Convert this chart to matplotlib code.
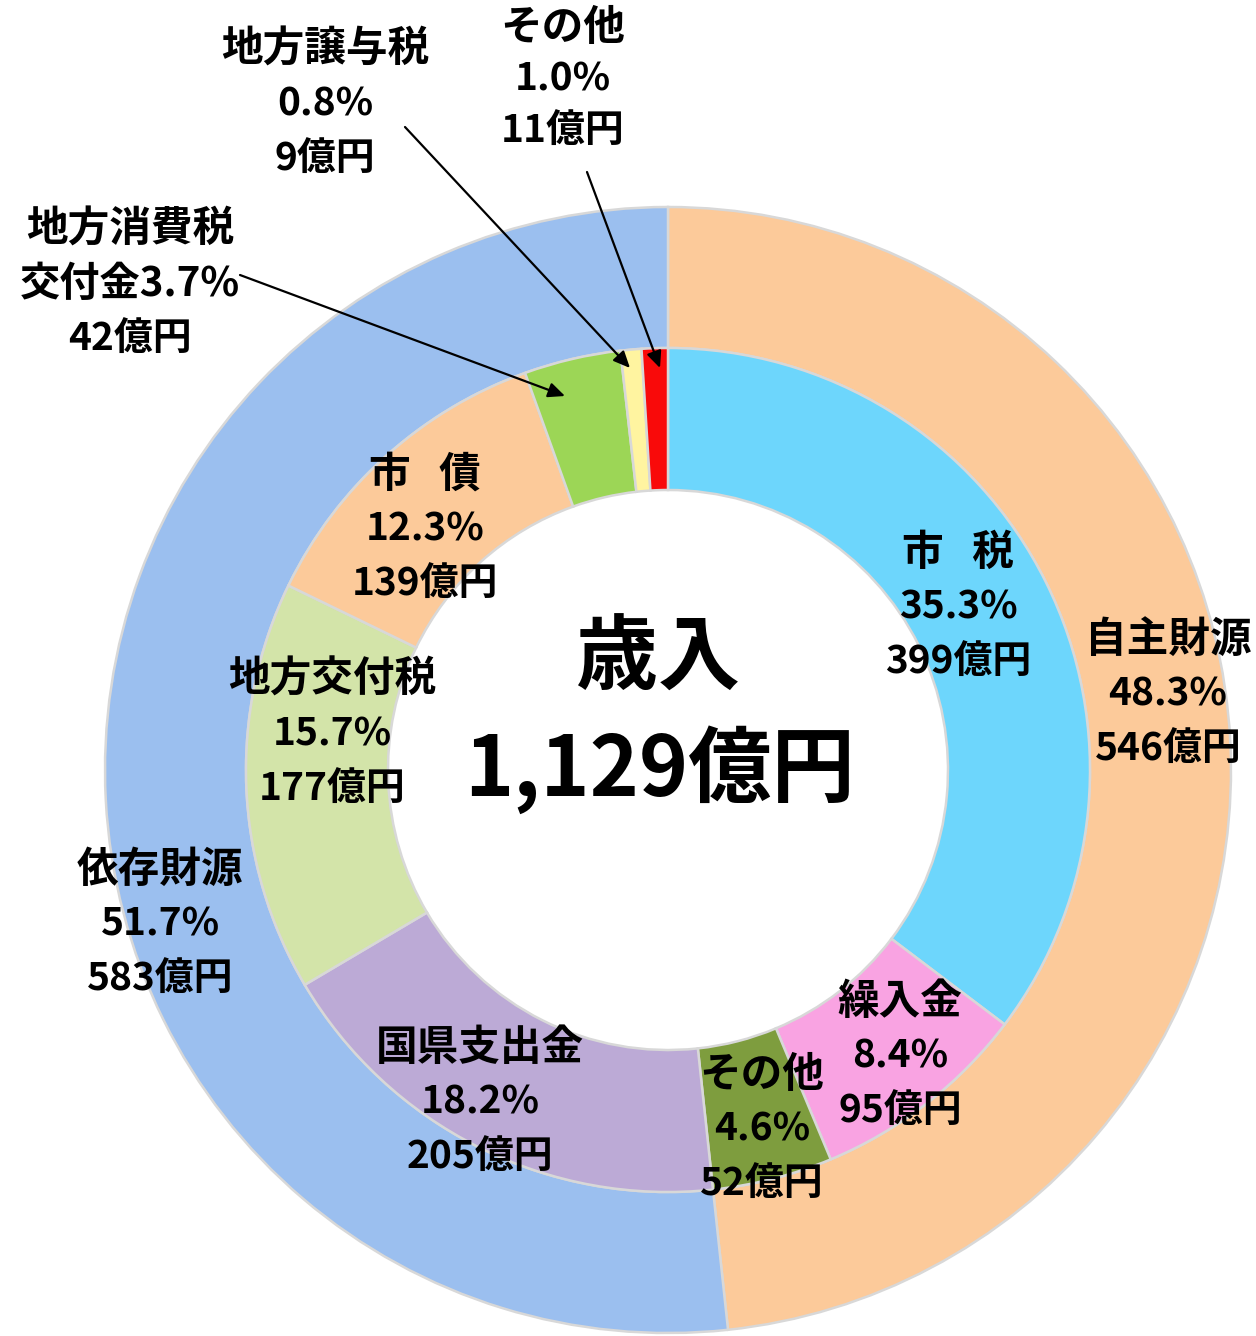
import matplotlib
matplotlib.use('Agg')
import matplotlib.pyplot as plt

# ---------------- data ----------------
outer_labels = ['自主財源', '依存財源']
outer_pct = [48.3, 51.7]
outer_amt = [546, 583]

inner_labels = ['市   税', '繰入金', 'その他', '国県支出金', '地方交付税',
                '市   債', '地方消費税交付金', '地方譲与税', 'その他']
inner_pct = [35.3, 8.4, 4.6, 18.2, 15.7, 12.3, 3.7, 0.8, 1.0]
inner_amt = [399, 95, 52, 205, 177, 139, 42, 9, 11]

center_title = '歳入'
total_amt = '1,129'
unit = '億円'

# ---------------- style ----------------
outer_colors = ['#FCCA9A', '#9BBFEF']
inner_colors = ['#6DD6FC', '#F9A3E2', '#7E9D3E', '#BCAAD6', '#D3E4A9',
                '#FCCA9A', '#9CD656', '#FFF4A0', '#F90A0A']

plt.rcParams['font.family'] = ['Noto Sans CJK JP', 'DejaVu Sans']

W, H = 1256, 1336
fig = plt.figure(figsize=(W / 100, H / 100), dpi=100)
ax = fig.add_axes([0, 0, 1, 1])

cx, cy = 668, H - 770
R_out, R_in, R_hole = 563, 422, 280

ax.pie(outer_pct, radius=R_out, center=(cx, cy), startangle=90, counterclock=False,
       colors=outer_colors,
       wedgeprops=dict(width=R_out - R_in, edgecolor='#d8d8d8', linewidth=1.8))
ax.pie(inner_pct, radius=R_in, center=(cx, cy), startangle=90, counterclock=False,
       colors=inner_colors,
       wedgeprops=dict(width=R_in - R_hole, edgecolor='#d8d8d8', linewidth=1.8))

ax.set_xlim(0, W)
ax.set_ylim(0, H)
ax.set_aspect('equal')
ax.axis('off')

FS_LABEL = 30
FS_NUM = 28
STEP = 54


def block(lines, sizes, x, y0, step=STEP):
    for i, (s, fs) in enumerate(zip(lines, sizes)):
        ax.text(x, H - (y0 + i * step), s, ha='center', va='center',
                fontsize=fs, fontweight='bold', color='black')


# outer labels
outer_pos = [(1168, 640), (160, 870)]
for lab, p, a, (x, y) in zip(outer_labels, outer_pct, outer_amt, outer_pos):
    block([lab, f'{p}%', f'{a}{unit}'], [FS_LABEL, FS_NUM, FS_NUM], x, y)

# inner labels
inner_pos = [(958, 553), (900, 1002), (762, 1075), (480, 1048), (332, 680),
             (425, 475), (130, 230), (325, 50), (563, 28)]
for i, (lab, p, a, (x, y)) in enumerate(zip(inner_labels, inner_pct, inner_amt, inner_pos)):
    if lab == '地方消費税交付金':
        lines = [lab[:5], f'{lab[5:]}{p}%', f'{a}{unit}']
        sizes = [FS_LABEL, 29, FS_NUM]
    else:
        lines = [lab, f'{p}%', f'{a}{unit}']
        sizes = [FS_LABEL, FS_NUM, FS_NUM]
    step = 51 if i == 8 else STEP
    block(lines, sizes, x, y, step=step)

# arrows for small slices
arrows = [((240, 275), (565, 396)),
          ((405, 127), (630, 368)),
          ((587, 172), (660, 368))]
for (x0, y0), (x1, y1) in arrows:
    ax.annotate('', xy=(x1, H - y1), xytext=(x0, H - y0),
                arrowprops=dict(arrowstyle='-|>,head_length=1.0,head_width=0.45',
                                color='black', lw=1.6, shrinkA=0, shrinkB=0))

# center text
ax.text(658, H - 660, center_title, ha='center', va='center', fontsize=59,
        fontweight='bold', color='black')
ax.text(660, H - 770, f'{total_amt}{unit}', ha='center', va='center', fontsize=60,
        fontweight='bold', color='black')

fig.savefig('out.png', dpi=100)
